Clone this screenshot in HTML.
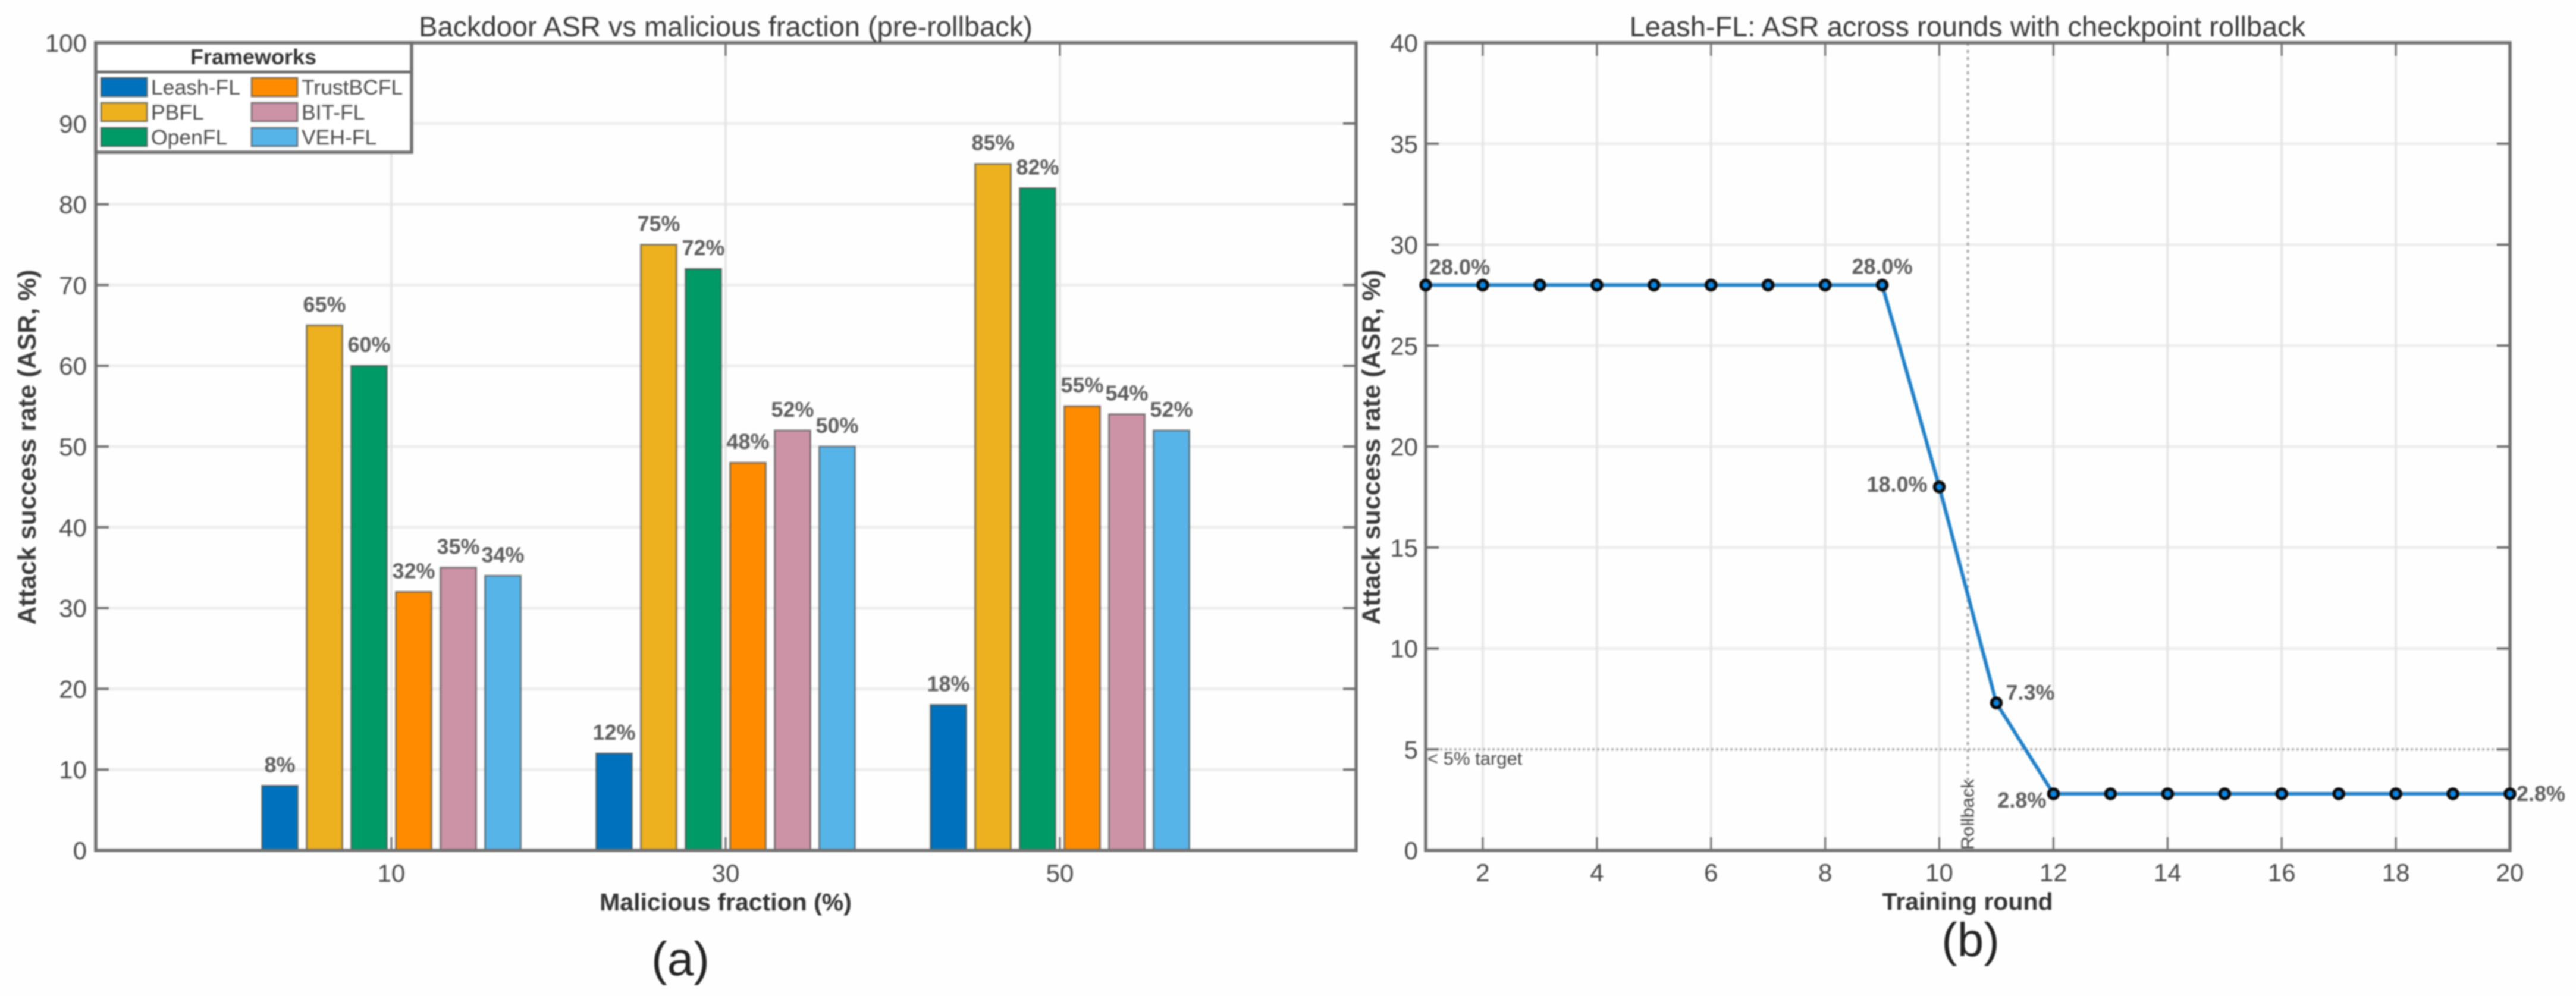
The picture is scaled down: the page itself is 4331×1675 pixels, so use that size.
<!DOCTYPE html>
<html lang="en">
<head>
<meta charset="utf-8">
<title>Backdoor ASR charts</title>
<style>
html,body{margin:0;padding:0;background:#fefefe;}
svg{display:block;filter:blur(1.3px);}
text{font-family:"Liberation Sans",Arial,sans-serif;}
</style>
</head>
<body>
<svg id="figure" xmlns="http://www.w3.org/2000/svg" width="4331" height="1675" viewBox="0 0 4331 1675">
  <rect x="0" y="0" width="4331" height="1675" fill="#fefefe"/>
  <g id="panelA"></g>
  <g id="panelB"></g>
  <text x="1220" y="61" font-size="47" fill="#3a3a3a" text-anchor="middle">Backdoor ASR vs malicious fraction (pre-rollback)</text>
  <text x="1220" y="1531" font-size="41" font-weight="bold" fill="#333" text-anchor="middle">Malicious fraction (%)</text>
  <text transform="translate(60 752) rotate(-90)" font-size="43" font-weight="bold" fill="#3a3a3a" text-anchor="middle">Attack success rate (ASR, %)</text>
  <text x="1144" y="1640" font-size="80" fill="#222" text-anchor="middle">(a)</text>
  <text x="3308" y="61" font-size="47" fill="#3a3a3a" text-anchor="middle">Leash-FL: ASR across rounds with checkpoint rollback</text>
  <text x="3308" y="1530" font-size="41" font-weight="bold" fill="#333" text-anchor="middle">Training round</text>
  <text transform="translate(2320 752) rotate(-90)" font-size="43" font-weight="bold" fill="#3a3a3a" text-anchor="middle">Attack success rate (ASR, %)</text>
  <text x="3313" y="1608" font-size="80" fill="#222" text-anchor="middle">(b)</text>
</svg>
<script>
/* Panel (a) data */
const categories = [10, 30, 50];
const frameworkNames = ["Leash-FL", "PBFL", "OpenFL", "TrustBCFL", "BIT-FL", "VEH-FL"];
const leashValues = [8, 12, 18];
const pbflValues = [65, 75, 85];
const openflValues = [60, 72, 82];
const trustbcflValues = [32, 48, 55];
const bitflValues = [35, 52, 54];
const vehflValues = [34, 50, 52];
const yTicksA = [0, 10, 20, 30, 40, 50, 60, 70, 80, 90, 100];
/* Panel (b) data */
const rounds = [1, 2, 3, 4, 5, 6, 7, 8, 9, 10, 11, 12, 13, 14, 15, 16, 17, 18, 19, 20];
const asrValues = [28, 28, 28, 28, 28, 28, 28, 28, 28, 18, 7.3, 2.8, 2.8, 2.8, 2.8, 2.8, 2.8, 2.8, 2.8, 2.8];
const labelledRounds = [1, 9, 10, 11, 12, 20];
const xTicksB = [2, 4, 6, 8, 10, 12, 14, 16, 18, 20];
const yTicksB = [0, 5, 10, 15, 20, 25, 30, 35, 40];
const targetLevel = 5;
const rollbackRound = 10.5;

const seriesValues = [leashValues, pbflValues, openflValues, trustbcflValues, bitflValues, vehflValues];
const barColors = ["#0072bd", "#edb120", "#009a66", "#ff8c00", "#cc93a6", "#56b4e9"];

const SVGNS = "http://www.w3.org/2000/svg";
function mk(parent, tag, attrs, txt) {
  const n = document.createElementNS(SVGNS, tag);
  for (const k in attrs) n.setAttribute(k, attrs[k]);
  if (txt !== undefined) n.textContent = txt;
  parent.appendChild(n);
  return n;
}

/* Plot frames */
const topY = 72, bottomY = 1430;
const A = { l: 161, r: 2280 };
const B = { l: 2397, r: 4220 };
const xCat = c => 658 + (c - 10) * 28.1;
const yA = v => bottomY - v * (bottomY - topY) / 100;
const xRound = r => B.l + (r - 1) * (B.r - B.l) / 19;
const yB = v => bottomY - v * (bottomY - topY) / 40;

const AXIS = "#707070", GRIDH = "#eeeeee", GRIDV = "#e6e6e6", TICKTXT = "#4a4a4a", VALTXT = "#5e5e5e";

function drawFrame(g, box, prefix) {
  const f = mk(g, "rect", { x: box.l, y: topY, width: box.r - box.l, height: bottomY - topY, fill: "none", stroke: AXIS, "stroke-width": 5.5 });
  
  
}

/* ---------- Panel A ---------- */
const gA = document.getElementById("panelA");
const barW = 60, barStep = 75;

yTicksA.forEach(v => {
  if (v > 0 && v < 100) {
    const gl = mk(gA, "line", { x1: A.l, x2: A.r, y1: yA(v), y2: yA(v), stroke: GRIDH, "stroke-width": 5 });
    
    
  }
});
categories.forEach(c => {
  const gl = mk(gA, "line", { x1: xCat(c), x2: xCat(c), y1: topY, y2: bottomY, stroke: GRIDV, "stroke-width": 4 });
  
  
});
yTicksA.forEach(v => {
  if (v > 0 && v < 100) {
    const t1 = mk(gA, "line", { x1: A.l, x2: A.l + 22, y1: yA(v), y2: yA(v), stroke: AXIS, "stroke-width": 4 });
    
    
    const t2 = mk(gA, "line", { x1: A.r - 22, x2: A.r, y1: yA(v), y2: yA(v), stroke: AXIS, "stroke-width": 4 });
    
    
  }
  const lab = mk(gA, "text", { x: 146, y: yA(v) + 15, "font-size": 42, fill: TICKTXT, "text-anchor": "end" }, String(v));
  
  
});
categories.forEach(c => {
  const t1 = mk(gA, "line", { x1: xCat(c), x2: xCat(c), y1: bottomY - 22, y2: bottomY, stroke: AXIS, "stroke-width": 3 });
  
  
  const t2 = mk(gA, "line", { x1: xCat(c), x2: xCat(c), y1: topY, y2: topY + 22, stroke: AXIS, "stroke-width": 3 });
  
  
  const lab = mk(gA, "text", { x: xCat(c), y: 1483, "font-size": 42, fill: TICKTXT, "text-anchor": "middle" }, String(c));
  
  
});
categories.forEach((c, ci) => {
  seriesValues.forEach((vals, si) => {
    const v = vals[ci];
    const cx = xCat(c) + (si - 2.5) * barStep;
    const bar = mk(gA, "rect", { x: cx - barW / 2, y: yA(v), width: barW, height: bottomY - yA(v), fill: barColors[si], stroke: "#4a4a4a", "stroke-opacity": 0.65, "stroke-width": 3 });
    
    
    const lab = mk(gA, "text", { x: cx, y: yA(v) - 23, "font-size": 36, "font-weight": "bold", fill: VALTXT, "text-anchor": "middle" }, v + "%");
    
    
  });
});
drawFrame(gA, A, "panel-a");

/* Legend */
const legBox = mk(gA, "rect", { x: A.l, y: topY, width: 531, height: 184, fill: "#fff", stroke: AXIS, "stroke-width": 5.5 });


const legTitle = mk(gA, "text", { x: 426, y: 108, "font-size": 36, "font-weight": "bold", fill: "#333", "text-anchor": "middle" }, "Frameworks");


const legDiv = mk(gA, "line", { x1: A.l, x2: 692, y1: 121, y2: 121, stroke: AXIS, "stroke-width": 5 });


const legRowTops = [131, 173, 215];
frameworkNames.forEach((name, i) => {
  const col = i < 3 ? 0 : 1, row = i % 3;
  const sx = col === 0 ? 170 : 423;
  const sw = mk(gA, "rect", { x: sx, y: legRowTops[row], width: 77, height: 31, fill: barColors[i], stroke: "#4a4a4a", "stroke-opacity": 0.65, "stroke-width": 3 });
  
  
  const tx = mk(gA, "text", { x: sx + 84, y: legRowTops[row] + 28, "font-size": 35.5, fill: TICKTXT }, name);
  
  
});

/* ---------- Panel B ---------- */
const gB = document.getElementById("panelB");
yTicksB.forEach(v => {
  if (v > 0 && v < 40 && v !== targetLevel) {
    const gl = mk(gB, "line", { x1: B.l, x2: B.r, y1: yB(v), y2: yB(v), stroke: GRIDH, "stroke-width": 5 });
    
    
  }
});
xTicksB.forEach(r => {
  const gl = mk(gB, "line", { x1: xRound(r), x2: xRound(r), y1: topY, y2: bottomY, stroke: GRIDV, "stroke-width": 4 });
  
  
});
const target = mk(gB, "line", { x1: B.l, x2: B.r, y1: yB(targetLevel), y2: yB(targetLevel), stroke: "#b0b0b0", "stroke-width": 4, "stroke-dasharray": "4 4" });


const targetLab = mk(gB, "text", { x: 2400, y: 1286, "font-size": 31, fill: "#4a4a4a" }, "< 5% target");


const rb = mk(gB, "line", { x1: xRound(rollbackRound), x2: xRound(rollbackRound), y1: topY, y2: bottomY, stroke: "#a8a8a8", "stroke-width": 4, "stroke-dasharray": "5 7" });


const rbLab = mk(gB, "text", { transform: "translate(" + (xRound(rollbackRound) + 10) + " 1429) rotate(-90)", "font-size": 31, fill: "#4a4a4a" }, "Rollback");



yTicksB.forEach(v => {
  if (v > 0 && v < 40) {
    const t1 = mk(gB, "line", { x1: B.l, x2: B.l + 22, y1: yB(v), y2: yB(v), stroke: AXIS, "stroke-width": 4 });
    
    
    const t2 = mk(gB, "line", { x1: B.r - 22, x2: B.r, y1: yB(v), y2: yB(v), stroke: AXIS, "stroke-width": 4 });
    
    
  }
  const lab = mk(gB, "text", { x: 2384, y: yB(v) + 15, "font-size": 42, fill: TICKTXT, "text-anchor": "end" }, String(v));
  
  
});
xTicksB.forEach(r => {
  if (r < 20) {
    const t1 = mk(gB, "line", { x1: xRound(r), x2: xRound(r), y1: bottomY - 22, y2: bottomY, stroke: AXIS, "stroke-width": 3 });
    
    
    const t2 = mk(gB, "line", { x1: xRound(r), x2: xRound(r), y1: topY, y2: topY + 22, stroke: AXIS, "stroke-width": 3 });
    
    
  }
  const lab = mk(gB, "text", { x: xRound(r), y: 1482, "font-size": 42, fill: TICKTXT, "text-anchor": "middle" }, String(r));
  
  
});
drawFrame(gB, B, "panel-b");

const linePts = rounds.map((r, i) => xRound(r) + "," + yB(asrValues[i])).join(" ");
const series = mk(gB, "polyline", { points: linePts, fill: "none", stroke: "#2080c8", "stroke-width": 6, "stroke-linejoin": "round" });


rounds.forEach((r, i) => {
  const p = mk(gB, "circle", { cx: xRound(r), cy: yB(asrValues[i]), r: 8, fill: "#0a84e0", stroke: "#0a0a0a", "stroke-width": 5.5 });
  
  
});
function labelPlacement(r) {
  if (r === 1) return { dx: 6, dy: -18, anchor: "start" };
  if (r === 9) return { dx: 0, dy: -19, anchor: "middle" };
  if (r === 10) return { dx: -20, dy: 8, anchor: "end" };
  if (r === 11) return { dx: 16, dy: -5, anchor: "start" };
  if (r === 12) return { dx: -12, dy: 23, anchor: "end" };
  return { dx: 11, dy: 12, anchor: "start" };
}
labelledRounds.forEach(r => {
  const v = asrValues[rounds.indexOf(r)];
  const pl = labelPlacement(r);
  const lab = mk(gB, "text", { x: xRound(r) + pl.dx, y: yB(v) + pl.dy, "font-size": 36, "font-weight": "bold", fill: VALTXT, "text-anchor": pl.anchor }, v.toFixed(1) + "%");
  
  
});
</script>
</body>
</html>
